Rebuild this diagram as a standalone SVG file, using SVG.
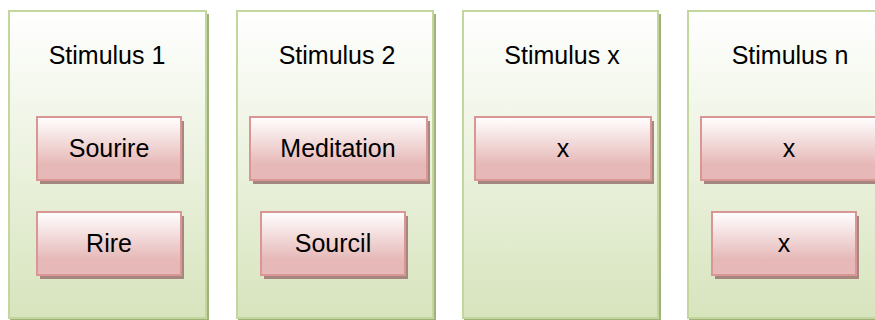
<svg xmlns="http://www.w3.org/2000/svg" width="875" height="320" viewBox="0 0 875 320">
<style>
.panel{fill:url(#gG);stroke:#c3d69b;stroke-width:2}
.pshadow{fill:#a0b27a}
.box{fill:url(#gR);stroke:#d99694;stroke-width:2}
.bshadow{fill:#a5877f}
text{font-family:"Liberation Sans",Arial,sans-serif;font-size:25px;fill:#000;text-anchor:middle}
</style>
<defs>
<linearGradient id="gG" x1="0" y1="0" x2="0" y2="1">
<stop offset="0" stop-color="#ffffff"/>
<stop offset="1" stop-color="#d7e4bd"/>
</linearGradient>
<linearGradient id="gR" x1="0" y1="0" x2="0" y2="1">
<stop offset="0" stop-color="#ffffff"/>
<stop offset="0.75" stop-color="#e6b9b8"/>
<stop offset="1" stop-color="#e6b9b8"/>
</linearGradient>
</defs>
<g id="panel1">
<rect class="pshadow" x="10" y="14" width="199" height="310"/>
<rect class="panel" x="9" y="11" width="197" height="307"/>
<text x="107" y="64">Stimulus 1</text>
</g>
<g id="panel2">
<rect class="pshadow" x="238" y="14" width="198" height="310"/>
<rect class="panel" x="237" y="11" width="196" height="307"/>
<text x="337" y="64">Stimulus 2</text>
</g>
<g id="panel3">
<rect class="pshadow" x="464" y="14" width="197" height="310"/>
<rect class="panel" x="463" y="11" width="195" height="307"/>
<text x="562" y="64">Stimulus x</text>
</g>
<g id="panel4">
<rect class="pshadow" x="689" y="14" width="200" height="310"/>
<rect class="panel" x="688" y="11" width="197" height="307"/>
<text x="790" y="64">Stimulus n</text>
</g>
<g id="sourire">
<rect class="bshadow" x="40" y="121" width="144" height="63"/>
<rect class="box" x="37" y="117" width="144" height="63"/>
<text x="109" y="157">Sourire</text>
</g>
<g id="rire">
<rect class="bshadow" x="40" y="216" width="144" height="63"/>
<rect class="box" x="37" y="212" width="144" height="63"/>
<text x="109" y="252">Rire</text>
</g>
<g id="meditation">
<rect class="bshadow" x="253" y="121" width="177" height="63"/>
<rect class="box" x="250" y="117" width="177" height="63"/>
<text x="338" y="157">Meditation</text>
</g>
<g id="sourcil">
<rect class="bshadow" x="264" y="216" width="144" height="63"/>
<rect class="box" x="261" y="212" width="144" height="63"/>
<text x="333" y="252">Sourcil</text>
</g>
<g id="x3">
<rect class="bshadow" x="478" y="121" width="176" height="63"/>
<rect class="box" x="475" y="117" width="176" height="63"/>
<text x="563" y="157">x</text>
</g>
<g id="xn1">
<rect class="bshadow" x="704" y="121" width="180" height="63"/>
<rect class="box" x="701" y="117" width="180" height="63"/>
<text x="789" y="157">x</text>
</g>
<g id="xn2">
<rect class="bshadow" x="715" y="216" width="144" height="63"/>
<rect class="box" x="712" y="212" width="144" height="63"/>
<text x="784" y="252">x</text>
</g>
<g id="connectors"/>
</svg>
